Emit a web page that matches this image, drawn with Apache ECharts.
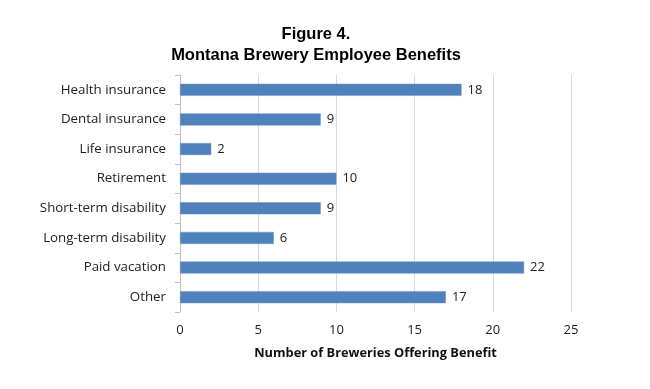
<!DOCTYPE html>
<html>
<head>
<meta charset="utf-8">
<script src="https://cdn.jsdelivr.net/npm/echarts@6/dist/echarts.min.js"></script>
<style>html,body{margin:0;padding:0;background:#fff;}#c{width:650px;height:389px;}</style>
</head>
<body>
<div id="c"></div>
<script>
var categories = ["Health insurance","Dental insurance","Life insurance","Retirement","Short-term disability","Long-term disability","Paid vacation","Other"];
var values = [18, 9, 2, 10, 9, 6, 22, 17];
var xTicks = [0, 5, 10, 15, 20, 25];

var chart = echarts.init(document.getElementById('c'));
chart.setOption({
  animation: false,
  backgroundColor: '#ffffff',
  title: [
    {text: 'Figure 4.', left: 311, top: 21, textAlign: 'center',
     textStyle: {fontFamily: 'Liberation Sans', fontSize: 16.5, fontWeight: 'bold', color: '#000'}},
    {text: 'Montana Brewery Employee Benefits', left: 311, top: 42, textAlign: 'center',
     textStyle: {fontFamily: 'Liberation Sans', fontSize: 16.5, fontWeight: 'bold', color: '#000'}}
  ],
  grid: {left: 180, right: 79, top: 75, bottom: 77},
  xAxis: {
    type: 'value', min: xTicks[0], max: xTicks[xTicks.length-1], interval: 5,
    name: 'Number of Breweries Offering Benefit', nameLocation: 'middle', nameGap: 35,
    nameTextStyle: {fontFamily: 'Open Sans', fontSize: 12.8, fontWeight: 'bold', color: '#111'},
    axisLine: {show: false}, axisTick: {show: false},
    axisLabel: {fontFamily: 'Open Sans', fontSize: 13, color: '#222', margin: 12},
    splitLine: {show: true, lineStyle: {color: '#d9d9d9', width: 1}}
  },
  yAxis: {
    type: 'category', data: categories, inverse: true,
    axisLine: {show: true, lineStyle: {color: '#bfbfbf'}},
    axisTick: {show: true, length: 5, lineStyle: {color: '#bfbfbf'}},
    axisLabel: {fontFamily: 'Open Sans', fontSize: 13.3, color: '#222', margin: 14},
    splitLine: {show: false}
  },
  series: [{
    type: 'bar', data: values, barWidth: 12,
    itemStyle: {color: '#4f81bd', borderColor: '#6a96cc', borderWidth: 0.5},
    label: {show: true, position: 'right', distance: 6, fontFamily: 'Open Sans', fontSize: 13, color: '#222'}
  }]
});
</script>
</body>
</html>
